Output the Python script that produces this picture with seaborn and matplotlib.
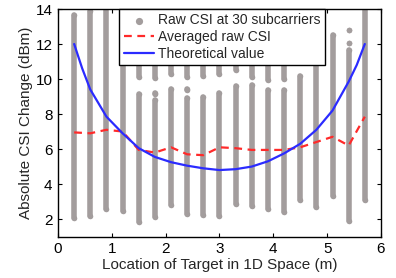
import numpy as np
import pandas as pd
import matplotlib
matplotlib.use("Agg")
import matplotlib.pyplot as plt
import seaborn as sns

# column positions (m)
col_x = [0.3, 0.6, 0.9, 1.2, 1.5, 1.8, 2.1, 2.4, 2.7, 3.0,
         3.3, 3.6, 3.9, 4.2, 4.5, 4.8, 5.1, 5.4, 5.7]

# raw CSI: runs of dots per column (x, low, high)
seg_x = [0.3, 0.6, 0.9, 1.2,
         1.5, 1.5,
         1.8, 1.8, 1.8,
         2.1, 2.1,
         2.4, 2.4, 2.4,
         2.7, 2.7,
         3.0, 3.0,
         3.3, 3.3,
         3.6, 3.6,
         3.9, 3.9,
         4.2, 4.2,
         4.5,
         4.8,
         5.1,
         5.4, 5.4, 5.4,
         5.7]
seg_lo = [2.05, 2.2, 2.55, 2.45,
          1.85, 10.1,
          2.1, 9.15, 10.05,
          2.8, 10.3,
          2.3, 9.4, 10.1,
          2.25, 10.2,
          2.17, 10.3,
          2.84, 10.5,
          2.76, 10.1,
          2.57, 9.95,
          2.42, 10.0,
          3.09,
          2.7,
          3.3,
          1.9, 12.05, 12.8,
          3.09]
seg_hi = [13.65, 13.9, 14.1, 10.9,
          9.15, 11.0,
          8.8, 9.2, 11.0,
          9.45, 11.0,
          8.9, 9.45, 11.0,
          9.0, 11.0,
          9.2, 11.0,
          9.6, 11.0,
          9.65, 11.0,
          9.4, 11.0,
          9.4, 11.0,
          10.2,
          11.0,
          12.5,
          11.65, 12.05, 12.8,
          14.1]

# averaged raw CSI per column
avg_csi = [6.95, 6.9, 7.1, 7.0, 5.95, 5.8, 6.1, 5.7, 5.65, 6.1,
           6.05, 5.95, 5.95, 5.95, 6.1, 6.4, 6.7, 6.2, 7.85]

# theoretical value
theory_x = [0.3, 0.45, 0.6, 0.9, 1.2, 1.5, 1.8, 2.1, 2.4, 2.7, 3.0,
            3.3, 3.6, 3.9, 4.2, 4.5, 4.8, 5.1, 5.4, 5.55, 5.7]
theory_y = [12.0, 10.6, 9.4, 7.85, 6.9, 6.05, 5.55, 5.25, 5.05, 4.9, 4.8,
            4.85, 5.0, 5.3, 5.75, 6.3, 7.1, 8.2, 9.85, 10.8, 12.0]

gray = "#a39d9d"

sns.set_style("white")
plt.rcParams["font.family"] = ["Liberation Sans", "DejaVu Sans"]

fig = plt.figure(figsize=(3.96, 2.78), dpi=100)
ax = fig.add_axes([0.1465, 0.149, 0.8155, 0.8186])

ends = pd.DataFrame({"x": seg_x + seg_x, "y": seg_lo + seg_hi})
ax.vlines(seg_x, seg_lo, seg_hi, color=gray, linewidth=4.0, capstyle="round", zorder=1)
sns.scatterplot(data=ends, x="x", y="y", ax=ax, color=gray, s=16, linewidth=0,
                label="Raw CSI at 30 subcarriers", zorder=1)

avg = pd.DataFrame({"x": col_x, "y": avg_csi})
sns.lineplot(data=avg, x="x", y="y", ax=ax, color="#ff2a2a", linewidth=1.6,
             linestyle=(0, (3.5, 2.5)), label="Averaged raw CSI", zorder=3)

theo = pd.DataFrame({"x": theory_x, "y": theory_y})
sns.lineplot(data=theo, x="x", y="y", ax=ax, color="#2b2bff", linewidth=1.6,
             label="Theoretical value", zorder=4)

ax.set_xlim(0, 6)
ax.set_ylim(1, 14)
ax.set_xticks([0, 1, 2, 3, 4, 5, 6])
ax.set_yticks([2, 4, 6, 8, 10, 12, 14])
ax.tick_params(direction="in", length=3, width=0.8, labelsize=11, colors="black",
               top=True, right=True, bottom=True, left=True, pad=4)
for s in ax.spines.values():
    s.set_color("black")
    s.set_linewidth(1.0)
    s.set_zorder(10)

ax.set_xlabel("Location of Target in 1D Space (m)", fontsize=11, labelpad=1)
ax.set_ylabel("Absolute CSI Change (dBm)", fontsize=11, labelpad=2)

leg = ax.legend(loc="upper left", bbox_to_anchor=(0.19, 1.0), borderaxespad=0,
                fontsize=10, frameon=True, fancybox=False, framealpha=1,
                edgecolor="black", handlelength=2.2, handletextpad=0.3,
                labelspacing=0.2, borderpad=0.3, markerscale=1.3)
leg.get_frame().set_linewidth(1.0)
leg.set_zorder(20)

fig.savefig("out.png", dpi=100)
